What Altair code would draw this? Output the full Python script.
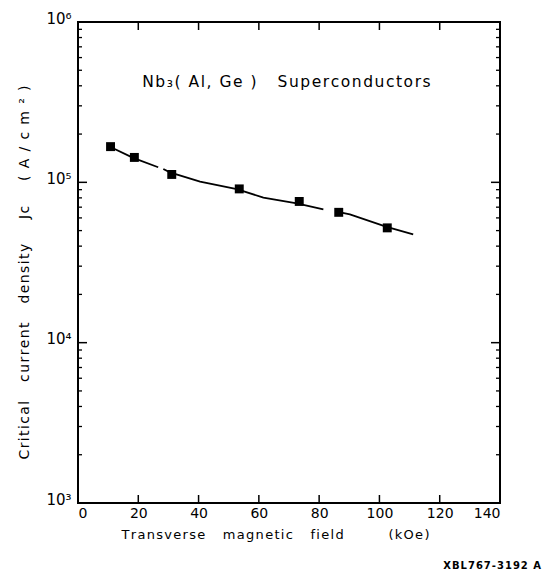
import altair as alt
import pandas as pd

# measured data points (kOe, A/cm^2)
field_koe = [10.8, 18.7, 31.1, 53.5, 73.4, 86.5, 102.6]
jc_values = [1.67e5, 1.43e5, 1.12e5, 9.1e4, 7.6e4, 6.5e4, 5.2e4]

# hand-drawn curve (with the scan's gaps as separate segments)
curve_field = [10.6, 18.3, 26.6, 28.3, 30.5, 40.5, 52.7, 61.5, 72.6, 81.4, 85.8, 90.2, 102.4, 111.2]
curve_jc = [1.667e5, 1.422e5, 1.242e5, 1.211e5, 1.153e5, 1.009e5, 9.08e4, 8.02e4, 7.40e4, 6.79e4,
            6.56e4, 6.31e4, 5.28e4, 4.74e4]
curve_seg = [0, 0, 0, 1, 1, 1, 1, 1, 1, 1, 2, 2, 2, 2]

# axis ticks
x_tick_labels = [0, 20, 40, 60, 80, 100, 120, 140]
x_inner_ticks = [20, 40, 60, 80, 100, 120]
y_decades = [1e3, 1e4, 1e5, 1e6]
y_inner_major = [1e4, 1e5]
y_minor = [m * 10 ** e for e in (3, 4, 5) for m in range(2, 10)]

annotation_text = ["Nb\u2083( Al, Ge )   Superconductors"]
annotation_x = [21.3]
annotation_y = [4.2e5]

x_title = "Transverse   magnetic   field        (kOe)"
y_title = "Critical   current   density    J\u1d04    ( A / c m \u00b2 )"
footer = "XBL767-3192 A"

FONT = "DejaVu Sans"
W, H = 422, 481


def tracked(s, gap="\u200a"):
    """letter-spaced text; ordinary spaces become non-breaking so they are kept"""
    return gap.join("\u00a0" if c == " " else c for c in s)


x_scale = alt.Scale(domain=[0, 140], nice=False, zero=False)
y_scale = alt.Scale(type="log", domain=[1e3, 1e6], nice=False)

x_axis = alt.Axis(values=x_tick_labels, ticks=False, domain=False, grid=False,
                  labelFontSize=14, labelPadding=3, labelColor="black", labelFont=FONT,
                  title=tracked(x_title), titleFontSize=13,
                  titleFontWeight="normal", titleFont=FONT, titleColor="black",
                  titlePadding=8, titleX=197)
y_axis = alt.Axis(values=y_decades, ticks=False, domain=False, grid=False,
                  labelExpr="datum.value == 1000 ? '10\u00b3' : datum.value == 10000 ? '10\u2074' : datum.value == 100000 ? '10\u2075' : '10\u2076'",
                  labelFontSize=15, labelPadding=7, labelOffset=-4, labelColor="black", labelFont=FONT,
                  title=tracked(y_title), titleFontSize=14,
                  titleFontWeight="normal", titleFont=FONT, titleColor="black", titlePadding=14,
                  titleY=250)

X = alt.X("B:Q", scale=x_scale, axis=x_axis)
Y = alt.Y("Jc:Q", scale=y_scale, axis=y_axis)

pts_df = pd.DataFrame({"B": field_koe, "Jc": jc_values})
curve_df = pd.DataFrame({"B": curve_field, "Jc": curve_jc, "seg": curve_seg})

points = alt.Chart(pts_df).mark_square(size=80, color="black", opacity=1).encode(x=X, y=Y)
curve = alt.Chart(curve_df).mark_line(color="black", strokeWidth=1.8).encode(
    x=X, y=Y, detail="seg:N")

xt = pd.DataFrame({"B": x_inner_ticks})
top_ticks = alt.Chart(xt).mark_rule(color="black", strokeWidth=1.5).encode(
    x=X, y=alt.value(0), y2=alt.value(8))
bot_ticks = alt.Chart(xt).mark_rule(color="black", strokeWidth=1.5).encode(
    x=X, y=alt.value(H), y2=alt.value(H - 8))

ymaj = pd.DataFrame({"Jc": y_inner_major})
ymin = pd.DataFrame({"Jc": y_minor})
left_major = alt.Chart(ymaj).mark_rule(color="black", strokeWidth=1.5).encode(
    y=Y, x=alt.value(0), x2=alt.value(9))
right_major = alt.Chart(ymaj).mark_rule(color="black", strokeWidth=1.5).encode(
    y=Y, x=alt.value(W), x2=alt.value(W - 9))
left_minor = alt.Chart(ymin).mark_rule(color="black", strokeWidth=1.3).encode(
    y=Y, x=alt.value(0), x2=alt.value(4))
right_minor = alt.Chart(ymin).mark_rule(color="black", strokeWidth=1.3).encode(
    y=Y, x=alt.value(W), x2=alt.value(W - 4))

ann_df = pd.DataFrame({"B": annotation_x, "Jc": annotation_y,
                       "t": [tracked(t) for t in annotation_text]})
annotation = alt.Chart(ann_df).mark_text(align="left", baseline="middle", fontSize=15.5,
                                          font=FONT, color="black").encode(x=X, y=Y, text="t:N")

chart = alt.layer(curve, points, top_ticks, bot_ticks, left_major, right_major,
                  left_minor, right_minor, annotation).properties(
    width=W, height=H,
    autosize=alt.AutoSizeParams(type="none"),
    padding={"left": 70, "top": 14, "right": 42, "bottom": 73},
    title=alt.TitleParams(tracked(footer), orient="bottom", anchor="end", frame="group",
                          fontSize=10, fontWeight="bold", font=FONT, color="black",
                          offset=20, dx=41),
).configure(background="white").configure_view(stroke="black", strokeWidth=2)

chart.save("out.html", embed_options={"renderer": "svg", "actions": False})
